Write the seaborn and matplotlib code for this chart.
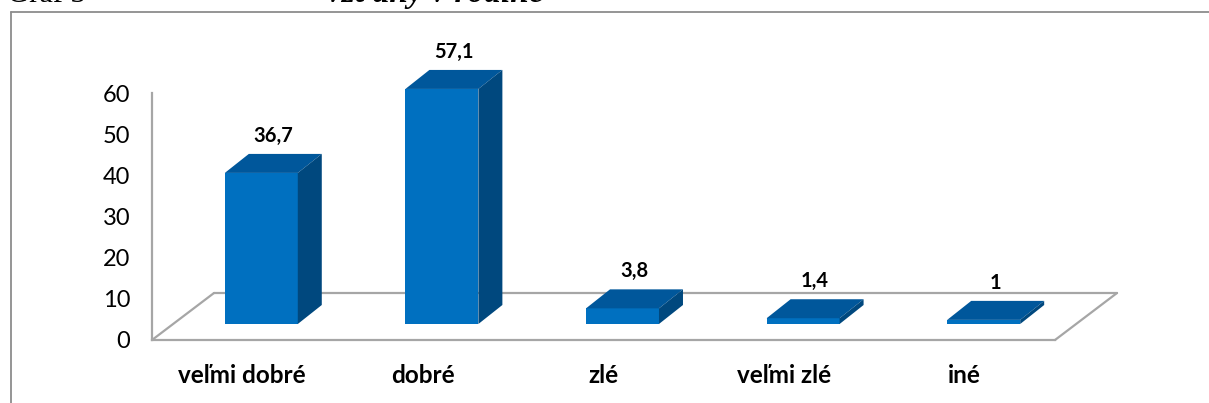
import numpy as np
import pandas as pd
import matplotlib
matplotlib.use("Agg")
import matplotlib.pyplot as plt
import seaborn as sns
from matplotlib.transforms import Affine2D, IdentityTransform
from matplotlib.patches import Polygon
from matplotlib.lines import Line2D

# ---- data ----
categories = ["veľmi dobré", "dobré", "zlé", "veľmi zlé", "iné"]
values = [36.7, 57.1, 3.8, 1.4, 1.0]
yticks = [0, 10, 20, 30, 40, 50, 60]

# ---- style ----
FRONT = "#0070C0"
TOP = "#00579B"
SIDE = "#00487E"
GRID = "#A6A6A6"

sns.set_style("white")
plt.rcParams["font.family"] = ["Lato", "DejaVu Sans"]

W, H = 1209, 403
fig = plt.figure(figsize=(W / 100, H / 100), dpi=100)

# axes: x from px 152..1055, y (0..60) from px 340..93
ax = fig.add_axes([152 / W, (H - 340) / H, (1055 - 152) / W, (340 - 93) / H])

df = pd.DataFrame({"kategoria": categories, "hodnota": values})
sns.barplot(data=df, x="kategoria", y="hodnota", ax=ax, color=FRONT,
            saturation=1, width=0.404, edgecolor="none", errorbar=None)

ax.set_xlim(-0.5, len(categories) - 0.5)
ax.set_ylim(0, 60)
ax.set_xlabel("")
ax.set_ylabel("")

# 3D offsets in pixels
FX, FY = 19, 16      # front face shift (bars sit inside the floor)
DX, DY = 24, 19      # bar depth
FDX, FDY = 62, 47    # floor depth

shift = Affine2D().translate(FX, FY)
for p in ax.patches:
    p.set_transform(ax.transData + shift)
    p.set_clip_on(False)
    p.set_zorder(2)
    x0d, w, h = p.get_x(), p.get_width(), p.get_height()
    (x0, y0) = ax.transData.transform((x0d, 0))
    (x1, y1) = ax.transData.transform((x0d + w, h))
    x0 += FX; x1 += FX; y0 += FY; y1 += FY
    top = Polygon([(x0, y1), (x1, y1), (x1 + DX, y1 + DY), (x0 + DX, y1 + DY)],
                  closed=True, facecolor=TOP, edgecolor="none",
                  transform=IdentityTransform(), clip_on=False, zorder=2)
    side = Polygon([(x1, y0), (x1 + DX, y0 + DY), (x1 + DX, y1 + DY), (x1, y1)],
                   closed=True, facecolor=SIDE, edgecolor="none",
                   transform=IdentityTransform(), clip_on=False, zorder=2)
    ax.add_patch(top)
    ax.add_patch(side)
    lab = f"{h:g}".replace(".", ",")
    ax.annotate(lab, xy=(x0d + w / 2, h),
                xytext=((FX + DX / 2) * 0.72, (FY + DY + 18) * 0.72),
                textcoords="offset points", ha="center", va="center",
                fontsize=14.5, fontweight="bold", color="black",
                annotation_clip=False, zorder=3)

# floor parallelogram
(lx, ly) = ax.transData.transform((-0.5, 0))
(rx, ry) = ax.transData.transform((len(categories) - 0.5, 0))
floor_kw = dict(color=GRID, lw=1.6, transform=IdentityTransform(),
                clip_on=False, zorder=0.5)
ax.add_line(Line2D([lx, lx + FDX], [ly, ly + FDY], **floor_kw))
ax.add_line(Line2D([lx + FDX, rx + FDX], [ly + FDY, ry + FDY], **floor_kw))
ax.add_line(Line2D([rx, rx + FDX], [ry, ry + FDY], **floor_kw))

# spines / ticks
for s in ["top", "right"]:
    ax.spines[s].set_visible(False)
for s in ["left", "bottom"]:
    ax.spines[s].set_color(GRID)
    ax.spines[s].set_linewidth(1.6)

ax.set_yticks(yticks)
ax.set_yticklabels([str(t) for t in yticks])
ax.tick_params(axis="y", direction="out", length=5.5, width=1.2, color=GRID,
               labelsize=17, labelcolor="black", pad=10)

ax.set_xticks(range(len(categories)))
ax.set_xticklabels(categories, fontweight="bold", fontsize=17.5)
ax.set_xticks(np.arange(-0.5, len(categories)), minor=True)
ax.tick_params(axis="x", which="major", length=0, pad=17, labelcolor="black")
ax.tick_params(axis="x", which="minor", direction="out", length=6, width=1.2,
               color=GRID)

# frame around the chart area
fig.add_artist(Line2D([10.5 / W, 10.5 / W], [0, (H - 12) / H], color="#8C8C8C",
                      lw=1.3, transform=fig.transFigure))
fig.add_artist(Line2D([10.5 / W, 1], [(H - 12) / H, (H - 12) / H], color="#8C8C8C",
                      lw=1.3, transform=fig.transFigure))

# clipped caption text above the frame (only its lower edge shows)
fig.text(7 / W, (H - 2) / H, "Graf 3", family="Liberation Serif",
         fontsize=22, va="baseline", ha="left", color="black")
fig.text(327 / W, (H - 2) / H, "vzťahy v rodine", family="Liberation Serif",
         fontsize=24, fontweight="bold", style="italic", va="baseline",
         ha="left", color="black")

fig.savefig("out.png", dpi=100)
